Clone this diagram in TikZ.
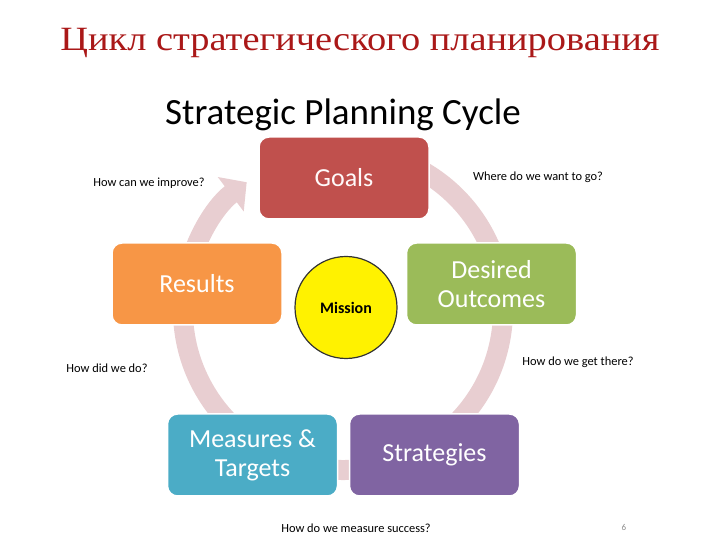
\documentclass[tikz,border=0pt]{standalone}
\usepackage{fontspec}
\setmainfont{Carlito}
\newfontfamily\titlefont{Liberation Serif}
\usetikzlibrary{arrows.meta}
\definecolor{ringpink}{RGB}{232,206,209}
\definecolor{goalred}{RGB}{192,80,77}
\definecolor{outgreen}{RGB}{155,187,89}
\definecolor{stratpurple}{RGB}{128,100,162}
\definecolor{measblue}{RGB}{75,172,198}
\definecolor{resorange}{RGB}{247,150,70}
\definecolor{titlered}{RGB}{170,24,24}

\begin{document}
\begin{tikzpicture}[x=1pt,y=1pt,
		stage/.style={draw=white, line width=1.5pt, rounded corners=10pt, minimum width=170pt, minimum height=82pt, align=center, text=white, font=\fontsize{26}{29}\selectfont},
		question/.style={font=\fontsize{12.4}{14}\selectfont, inner sep=0pt},
		ring/.style={draw=ringpink, line width=20pt, -{Triangle[length=20pt,width=42pt]}}]
		\useasboundingbox (0,0) rectangle (720,540);
		\node [font=\titlefont\fontsize{34}{38}\selectfont, text=titlered] (title) at (360,497) {\scalebox{1.13}[1]{Цикл стратегического планирования}};
		\node [font=\fontsize{37}{40}\selectfont] (heading) at (343,425) {Strategic Planning Cycle};
		\coordinate (ringc) at (343,230);
		\draw [ring] ([shift={(80:160)}]ringc) arc [start angle=80, end angle=-233, radius=160];
		\node [stage, fill=goalred, text=white!90!pink] (goals) at (344,362) {Goals};
		\node [stage, fill=outgreen] (outcomes) at (491.5,256) {Desired\\Outcomes};
		\node [stage, fill=stratpurple] (strategies) at (434.5,85) {Strategies};
		\node [stage, fill=measblue] (measures) at (252.5,85) {Measures \&\\Targets};
		\node [stage, fill=resorange] (results) at (197,256) {Results};
		\node [circle, draw=black!80, line width=1.2pt, fill=yellow, minimum size=102pt, font=\bfseries\fontsize{16}{18}\selectfont] (mission) at (346,232.5) {Mission};
		\node [question] (improve) at (149,357) {How can we improve?};
		\node [question] (wherego) at (538,363) {Where do we want to go?};
		\node [question] (howdid) at (107,172) {How did we do?};
		\node [question] (getthere) at (578,178) {How do we get there?};
		\node [question] (measure) at (356,12) {How do we measure success?};
		\node [font=\fontsize{9}{10}\selectfont, text=black!45] (pagenum) at (624,13) {6};
	\end{tikzpicture}
\end{document}
